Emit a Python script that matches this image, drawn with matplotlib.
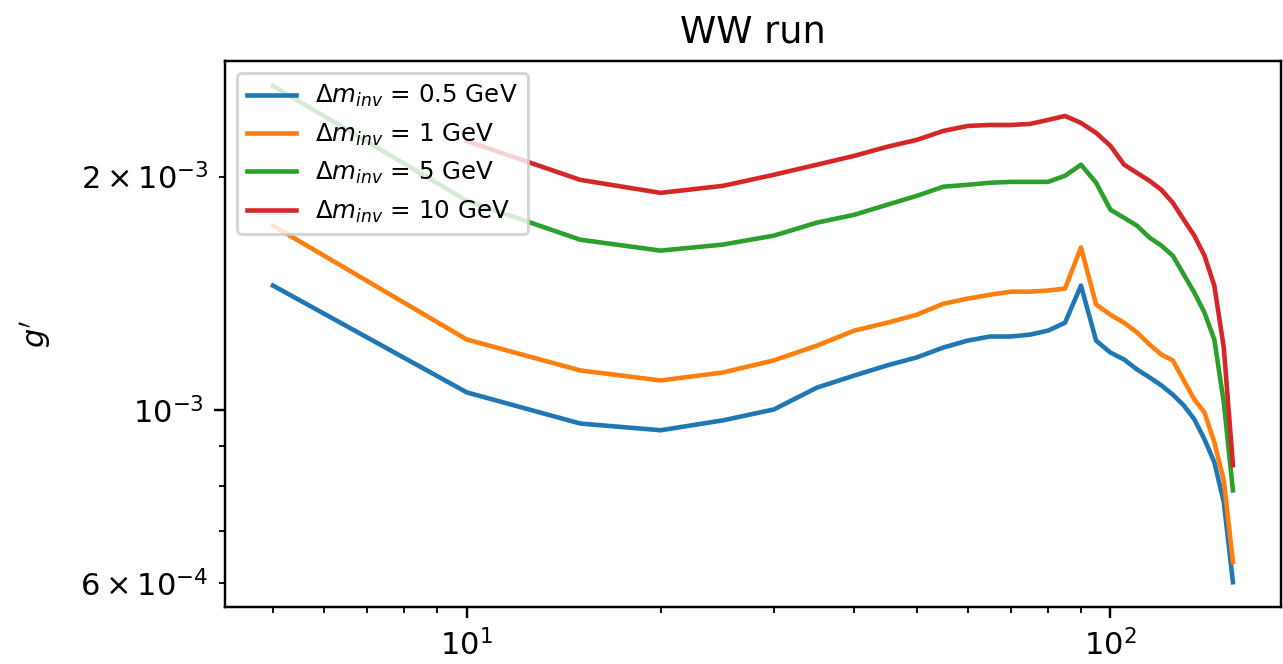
import numpy as np
import matplotlib
matplotlib.use('Agg')
import matplotlib.pyplot as plt

# mass points (GeV)
mass = [5, 10, 15, 20, 25, 30, 35, 40, 45, 50, 55, 60, 65, 70, 75, 80,
        85, 90, 95, 100, 105, 110, 115, 120, 125, 130, 135, 140, 145, 150, 155]

# g' limits in units of 1e-3
g_05 = [1.448, 1.055, 0.962, 0.943, 0.971, 1.003, 1.070, 1.109, 1.143, 1.170,
        1.205, 1.230, 1.245, 1.245, 1.252, 1.267, 1.297, 1.448, 1.230, 1.187,
        1.163, 1.129, 1.103, 1.077, 1.048, 1.015, 0.974, 0.918, 0.858, 0.762, 0.601]
g_1 = [1.729, 1.234, 1.126, 1.093, 1.119, 1.160, 1.212, 1.267, 1.297, 1.328,
       1.372, 1.393, 1.409, 1.422, 1.422, 1.427, 1.435, 1.621, 1.369, 1.328,
       1.297, 1.260, 1.216, 1.180, 1.160, 1.093, 1.033, 0.994, 0.910, 0.813, 0.638]
g_5 = [2.617, 1.862, 1.659, 1.606, 1.635, 1.679, 1.745, 1.786, 1.840, 1.889,
       1.941, 1.952, 1.964, 1.969, 1.969, 1.969, 2.005, 2.072, 1.964, 1.813,
       1.770, 1.729, 1.669, 1.630, 1.582, 1.496, 1.418, 1.336, 1.234, 1.024, 0.789]
g_10 = [np.nan, 2.223, 1.981, 1.906, 1.946, 2.011, 2.072, 2.127, 2.185, 2.230,
        2.290, 2.324, 2.331, 2.331, 2.338, 2.366, 2.394, 2.345, 2.277, 2.191,
        2.072, 2.022, 1.975, 1.923, 1.851, 1.760, 1.679, 1.582, 1.448, 1.205, 0.850]

widths = ['0.5', '1', '5', '10']
series = [g_05, g_1, g_5, g_10]

fig, ax = plt.subplots(figsize=(1283 / 220, 664 / 220), dpi=220)
fig.subplots_adjust(left=0.1754, right=0.9984, top=0.908, bottom=0.0858)

for w, g in zip(widths, series):
    ax.plot(mass, np.array(g) * 1e-3, label=r'$\Delta m_{inv}$ = ' + w + ' GeV')

ax.set_xscale('log')
ax.set_yscale('log')
ax.set_ylabel(r"$g'$", labelpad=9)
ax.set_title('WW run')
ax.legend(loc='upper left', fontsize=8)

plt.savefig('out.png', dpi=220)
